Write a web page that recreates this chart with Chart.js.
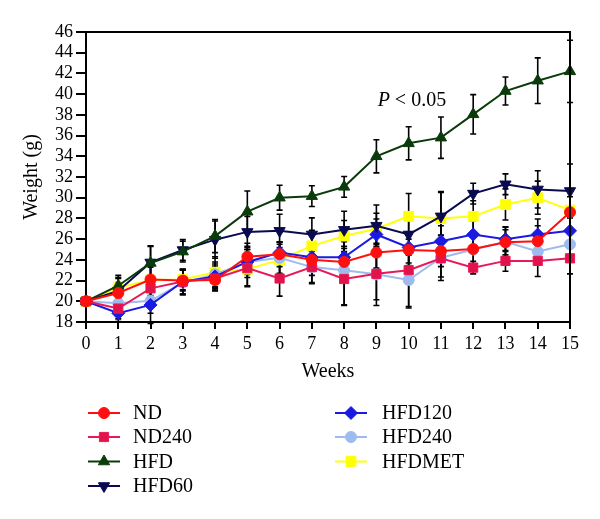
<!DOCTYPE html>
<html>
<head>
<meta charset="utf-8">
<script src="https://cdn.jsdelivr.net/npm/chart.js@4.4.1/dist/chart.umd.min.js"></script>
<style>
  html, body { margin: 0; padding: 0; background: #ffffff; }
  #wrap { width: 600px; height: 519px; position: relative; }
</style>
</head>
<body>
<div id="wrap"><canvas id="c" width="600" height="519"></canvas></div>
<script>
// ---- data ----
const weeks = ['0','1','2','3','4','5','6','7','8','9','10','11','12','13','14','15'];
const seriesNames = ['ND','ND240','HFD','HFD60','HFD120','HFD240','HFDMET'];

const nd     = [20,20.8,22.1,22.0,22.05,24.3,24.55,24.0,23.8,24.7,24.95,24.85,25.05,25.7,25.8,28.6];
const nd240  = [20,19.3,21.25,21.9,22.2,23.2,22.2,23.3,22.15,22.65,23.0,24.15,23.25,23.9,23.9,24.15];
const hfd    = [20,21.5,23.7,24.8,26.3,28.65,30.0,30.15,31.05,34.0,35.25,35.8,38.05,40.3,41.3,42.2];
const hfd60  = [20,21.0,23.75,24.95,25.95,26.7,26.8,26.45,26.9,27.3,26.45,28.2,30.4,31.3,30.8,30.65];
const hfd120 = [20,18.85,19.65,21.9,22.4,23.8,24.7,24.25,24.25,26.45,25.2,25.8,26.45,26.0,26.45,26.8];
const hfd240 = [20,19.8,20.05,21.8,22.6,23.8,24.2,23.3,23.0,22.6,22.05,24.2,25.0,25.75,24.8,25.5];
const hfdmet = [20,21.3,22.05,22.1,22.8,23.1,24.0,25.35,26.3,27.0,28.2,28.0,28.2,29.35,30.0,28.8];

// standard deviations (half-length of error bars)
const ndErr     = [0.3,1.0,1.2,1.0,1.0,1.3,1.2,1.5,1.5,1.5,1.5,1.5,1.5,1.2,1.5,1.5];
const nd240Err  = [0.3,1.0,1.2,1.2,1.2,1.8,1.7,1.5,2.5,2.5,3.5,1.8,0.6,1.0,1.5,1.5];
const hfdErr    = [0.3,1.0,1.6,1.0,1.6,2.0,1.2,1.0,1.0,1.6,1.6,2.0,1.9,1.35,2.2,3.0];
const hfd60Err  = [0.3,1.2,1.6,1.0,1.8,1.5,1.6,1.6,1.8,2.0,2.0,2.4,1.0,1.0,1.8,2.6];
const hfd120Err = [0.3,0.8,1.8,1.2,1.2,1.2,1.0,1.2,1.5,1.5,1.5,1.5,1.3,1.2,1.5,1.5];
const hfd240Err = [0.3,0.8,1.2,1.2,1.2,1.5,1.5,1.6,3.4,3.0,2.7,2.2,1.5,1.4,1.3,1.5];
const hfdmetErr = [0.3,1.0,1.5,1.0,1.5,1.6,1.5,1.5,1.5,1.5,2.2,2.5,1.5,1.5,1.6,2.0];

const yTicks = [18,20,22,24,26,28,30,32,34,36,38,40,42,44,46];
const annotationText = { italic: 'P', rest: ' < 0.05', x: 10.1, y: 39.4 };

// ---- styles ----
const FONT = '"Liberation Serif", "DejaVu Serif", serif';
const styles = [
  { color: '#ff1010', fill: '#ff1010', pointStyle: 'circle',   rotation: 0,   radius: 5.5 },
  { color: '#e8185a', fill: '#e0144a', pointStyle: 'rect',     rotation: 0,   radius: 6.5 },
  { color: '#0b3b0b', fill: '#0b3b0b', pointStyle: 'triangle', rotation: 0,   radius: 6.5 },
  { color: '#0a0a50', fill: '#0a0a50', pointStyle: 'triangle', rotation: 180, radius: 6.5 },
  { color: '#1a1ae0', fill: '#1a1ae0', pointStyle: 'rectRot',  rotation: 0,   radius: 6.5 },
  { color: '#9dbbee', fill: '#9dbbee', pointStyle: 'circle',   rotation: 0,   radius: 5.5 },
  { color: '#ffff10', fill: '#ffff00', pointStyle: 'rect',     rotation: 0,   radius: 7 }
];
const values = [nd, nd240, hfd, hfd60, hfd120, hfd240, hfdmet];
const errors = [ndErr, nd240Err, hfdErr, hfd60Err, hfd120Err, hfd240Err, hfdmetErr];

const datasets = seriesNames.map((name, i) => ({
  label: name,
  data: values[i],
  errors: errors[i],
  borderColor: styles[i].color,
  backgroundColor: styles[i].fill,
  pointBackgroundColor: styles[i].fill,
  pointBorderColor: styles[i].color,
  pointStyle: styles[i].pointStyle,
  pointRotation: styles[i].rotation,
  pointRadius: styles[i].radius,
  pointHoverRadius: styles[i].radius,
  pointBorderWidth: 1,
  borderWidth: 2,
  tension: 0,
  fill: false
}));

// ---- plugins ----
const errorBars = {
  id: 'errorBars',
  beforeDatasetsDraw(chart) {
    const ctx = chart.ctx;
    const xs = chart.scales.x, ys = chart.scales.y;
    ctx.save();
    ctx.strokeStyle = '#000';
    ctx.lineWidth = 1.6;
    chart.data.datasets.forEach((ds) => {
      ds.data.forEach((v, j) => {
        const e = ds.errors[j];
        const x = xs.getPixelForValue(j);
        const yt = ys.getPixelForValue(v + e);
        const yb = ys.getPixelForValue(v - e);
        ctx.beginPath();
        ctx.moveTo(x, yt); ctx.lineTo(x, yb);
        ctx.moveTo(x - 3, yt); ctx.lineTo(x + 3, yt);
        ctx.moveTo(x - 3, yb); ctx.lineTo(x + 3, yb);
        ctx.stroke();
      });
    });
    ctx.restore();
  }
};

const frame = {
  id: 'frame',
  afterDraw(chart) {
    const { ctx, chartArea: a } = chart;
    ctx.save();
    ctx.strokeStyle = '#000';
    ctx.lineWidth = 2;
    ctx.beginPath();
    ctx.moveTo(a.left, a.top); ctx.lineTo(a.right, a.top); ctx.lineTo(a.right, a.bottom);
    ctx.stroke();
    // annotation
    const xs = chart.scales.x, ys = chart.scales.y;
    const px = xs.getPixelForValue(annotationText.x);
    const py = ys.getPixelForValue(annotationText.y);
    ctx.fillStyle = '#000';
    ctx.textBaseline = 'middle';
    ctx.font = 'italic 20px ' + FONT;
    const w1 = ctx.measureText(annotationText.italic).width;
    ctx.font = '20px ' + FONT;
    const w2 = ctx.measureText(annotationText.rest).width;
    const sx = px - (w1 + w2) / 2;
    ctx.font = 'italic 20px ' + FONT;
    ctx.textAlign = 'left';
    ctx.fillText(annotationText.italic, sx, py);
    ctx.font = '20px ' + FONT;
    ctx.fillText(annotationText.rest, sx + w1, py);
    ctx.restore();
  }
};

const legendPlugin = {
  id: 'customLegend',
  afterDraw(chart) {
    const ctx = chart.ctx;
    const cols = [{ lx: 88, tx: 133 }, { lx: 335, tx: 382 }];
    const rowY = [413, 437, 461.5, 486];
    ctx.save();
    chart.data.datasets.forEach((ds, i) => {
      const col = i < 4 ? cols[0] : cols[1];
      const y = rowY[i < 4 ? i : i - 4];
      ctx.strokeStyle = ds.borderColor;
      ctx.lineWidth = 2;
      ctx.beginPath();
      ctx.moveTo(col.lx, y); ctx.lineTo(col.lx + 32, y);
      ctx.stroke();
      ctx.fillStyle = ds.pointBackgroundColor;
      ctx.strokeStyle = ds.pointBorderColor;
      ctx.lineWidth = 1;
      Chart.helpers.drawPoint(ctx, {
        pointStyle: ds.pointStyle, rotation: ds.pointRotation,
        radius: ds.pointRadius, borderWidth: 1
      }, col.lx + 16, y);
      ctx.fillStyle = '#000';
      ctx.font = '20px ' + FONT;
      ctx.textAlign = 'left';
      ctx.textBaseline = 'middle';
      ctx.fillText(ds.label, col.tx, y + 1);
    });
    ctx.restore();
  }
};

// ---- chart ----
new Chart(document.getElementById('c'), {
  type: 'line',
  data: { labels: weeks, datasets },
  plugins: [errorBars, frame, legendPlugin],
  options: {
    responsive: false,
    animation: false,
    devicePixelRatio: 1,
    layout: { padding: { left: 0, top: 32, right: 30, bottom: 133 } },
    plugins: { legend: { display: false }, tooltip: { enabled: false } },
    scales: {
      x: {
        type: 'category',
        offset: false,
        grid: { display: true, drawOnChartArea: false, drawTicks: true, tickLength: 7, color: '#000', lineWidth: 2 },
        border: { display: true, color: '#000', width: 2 },
        ticks: { color: '#000', font: { family: FONT, size: 18 }, padding: 4, maxRotation: 0, autoSkip: false },
        title: { display: true, text: 'Weeks', color: '#000', font: { family: FONT, size: 20 }, padding: { top: 0, bottom: 2 } },
        afterFit(scale) { scale.height = 64; }
      },
      y: {
        min: 18, max: 46,
        afterBuildTicks(scale) { scale.ticks = yTicks.map(v => ({ value: v })); },
        grid: { display: true, drawOnChartArea: false, drawTicks: true, tickLength: 10, color: '#000', lineWidth: 2 },
        border: { display: true, color: '#000', width: 2 },
        ticks: { color: '#000', font: { family: FONT, size: 18 }, padding: 3, autoSkip: false },
        title: { display: true, text: 'Weight (g)', color: '#000', font: { family: FONT, size: 20 }, padding: { top: 20, bottom: 0 } },
        afterFit(scale) { scale.width = 86; }
      }
    }
  }
});
</script>
</body>
</html>
